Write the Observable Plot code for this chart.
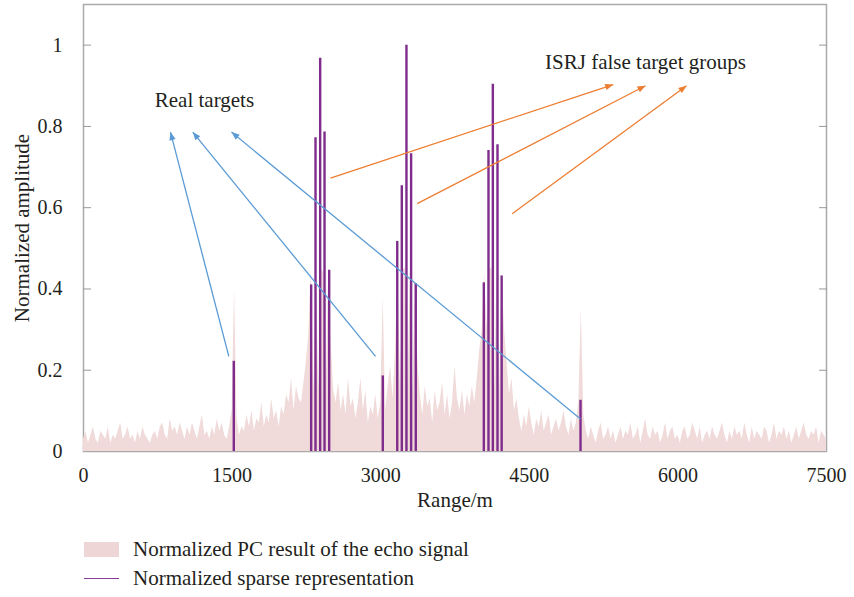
<!DOCTYPE html>
<html>
<head>
<meta charset="utf-8">
<script src="https://cdn.jsdelivr.net/npm/d3@7"></script>
<script src="https://cdn.jsdelivr.net/npm/@observablehq/plot@0.6"></script>
<style>
  html, body { margin: 0; padding: 0; background: #fff; }
  body { width: 854px; height: 597px; overflow: hidden; font-family: "Liberation Serif", "DejaVu Serif", serif; color: #231f20; }
  #legend { margin-left: 84px; margin-top: 5px; font-size: 21px; }
  .row { display: flex; align-items: center; height: 29px; }
  .sw { width: 35px; margin-right: 14px; }
</style>
</head>
<body>
<div id="chart"></div>
<div id="legend">
  <div class="row"><div class="sw" style="height:15px;background:#efd6d6"></div><span>Normalized PC result of the echo signal</span></div>
  <div class="row"><div class="sw" style="height:0;border-top:1.8px solid #8a3d98"></div><span>Normalized sparse representation</span></div>
</div>
<script>
// ---- Data ----
const rangeStep = 25; // metres between samples of the pulse-compression result
const pcNoise = [
  .03,.05,.02,.04,.06,.03,.02,.05,.04,.03,.06,.02,.04,.03,.05,.07,.03,.04,.06,.03,
  .04,.02,.05,.03,.06,.04,.03,.02,.04,.05,.03,.06,.07,.04,.03,.08,.05,.06,.04,.07,
  .05,.03,.06,.04,.07,.05,.03,.06,.09,.04,.05,.03,.06,.04,.08,.05,.07,.04,.03,.06,
  .10,.40,.08,
  .04,.06,.05,.09,.06,.10,.05,.08,.07,.12,.06,.09,.07,.13,.08,.10,.06,
  .11,.09,.14,.12,.18,.10,.16,.13,.12,.17,.22,.29,
  .45,.14,.45,.15,.45,.44,.15,.45,
  .27,.15,.12,.17,.10,.14,.09,.18,.11,.13,.08,.12,.18,.10,.15,.07,.11,.09,.14,.08,.12,
  .38,.10,
  .16,.21,.13,.25,
  .45,.15,.45,.45,.15,.45,.14,.43,
  .22,.14,.09,.16,.11,.13,.07,.15,.10,.12,.17,.09,.14,.08,.12,.21,.13,.10,.15,.09,.14,.11,.16,.12,.18,.25,
  .30,
  .44,.30,.45,.45,.15,.45,.15,.44,
  .30,.22,.14,.18,.10,.13,
  .08,.05,.09,.06,.11,.07,.04,.08,.06,.10,.05,.07,.09,.04,.06,.08,.05,.07,.10,.06,.04,.08,.05,.07,
  .12,.35,.09,
  .05,.03,.06,.04,.02,.05,.07,.03,.04,.06,
  .03,.05,.02,.04,.06,.03,.05,.04,.07,.03,
  .04,.06,.02,.05,.08,.04,.03,.06,.04,.05,
  .02,.04,.07,.03,.05,.06,.03,.04,.02,.05,
  .06,.03,.04,.07,.05,.03,.06,.02,.04,.05,
  .03,.06,.04,.03,.05,.07,.04,.02,.05,.03,
  .06,.04,.05,.03,.07,.04,.02,.06,.03,.05,
  .04,.03,.06,.05,.02,.04,.07,.03,.05,.04,
  .06,.03,.05,.02,.04,.06,.03,.05,.07,.04,
  .03,.05,.04,.06,.02,.05,.04,.03
];
const stemRange = [1517, 2298, 2342, 2389, 2433, 2480, 3021, 3167, 3213, 3260, 3307, 3354, 4041, 4088, 4132, 4179, 4221, 5017];
const stemAmp   = [0.222, 0.41, 0.772, 0.968, 0.786, 0.446, 0.186, 0.517, 0.654, 1.0, 0.733, 0.413, 0.415, 0.741, 0.904, 0.755, 0.432, 0.126];

const arrowX1 = [1467, 2948, 5017, 2493, 3368, 4327];
const arrowY1 = [0.234, 0.234, 0.080, 0.673, 0.610, 0.585];
const arrowX2 = [878, 1103, 1494, 5347, 5673, 6087];
const arrowY2 = [0.786, 0.786, 0.786, 0.903, 0.900, 0.900];
const arrowKind = ["real", "real", "real", "false", "false", "false"];

const labelText = ["Real targets", "ISRJ false target groups"];
const labelX = [1221, 5673];
const labelY = [0.865, 0.958];

const xTicks = [0, 1500, 3000, 4500, 6000, 7500];
const yTicks = [0, 0.2, 0.4, 0.6, 0.8, 1];
const xTitle = "Range/m";
const yTitle = "Normalized amplitude";

// ---- Tables ----
const noiseData = pcNoise.map((v, i) => ({range: i * rangeStep, amp: v}));
const stems = stemRange.map((r, i) => ({range: r, amp: stemAmp[i]}));
const arrows = arrowX1.map((x, i) => ({x1: x, y1: arrowY1[i], x2: arrowX2[i], y2: arrowY2[i], kind: arrowKind[i]}));
const labels = labelText.map((t, i) => ({text: t, x: labelX[i], y: labelY[i]}));
const arrowColor = {real: "#5b9bd5", false: "#ed7d31"};

function headMarker(color) {
  const m = d3.create("svg:marker")
    .attr("viewBox", "-10 -5 10 10")
    .attr("refX", 0).attr("refY", 0)
    .attr("markerWidth", 10).attr("markerHeight", 8)
    .attr("markerUnits", "userSpaceOnUse")
    .attr("orient", "auto");
  m.append("path").attr("d", "M-10,-4L0,0L-10,4Z").attr("fill", color).attr("stroke", "none");
  return m.node();
}

function build(useMarker) {
  const arrowMarks = useMarker
    ? ["real", "false"].map(k => Plot.link(arrows.filter(d => d.kind === k), {
        x1: "x1", y1: "y1", x2: "x2", y2: "y2",
        stroke: arrowColor[k], strokeWidth: 1.3,
        markerEnd: () => headMarker(arrowColor[k])
      }))
    : ["real", "false"].map(k => Plot.arrow(arrows.filter(d => d.kind === k), {
        x1: "x1", y1: "y1", x2: "x2", y2: "y2",
        stroke: arrowColor[k], strokeWidth: 1.3, headLength: 9, bend: 0
      }));
  return Plot.plot({
    width: 854,
    height: 530,
    marginLeft: 83,
    marginRight: 28,
    marginTop: 4,
    marginBottom: 79,
    style: {fontFamily: '"Liberation Serif", "DejaVu Serif", serif', fontSize: "20px", color: "#231f20", background: "#fff"},
    x: {domain: [0, 7500]},
    y: {domain: [0, 1.1]},
    marks: [
      Plot.frame({stroke: "#aaa", strokeWidth: 1.5}),
      Plot.areaY(noiseData, {x: "range", y: "amp", fill: "#f0dada", curve: "linear"}),
      Plot.ruleX(stems, {x: "range", y1: 0, y2: "amp", stroke: "#7f2c8c", strokeWidth: 2.4}),
      ...arrowMarks,
      Plot.text(labels, {x: "x", y: "y", text: "text", fontSize: 21, fill: "#231f20"}),
      Plot.axisX({ticks: xTicks, tickFormat: d => String(d), tickSize: 0, tickPadding: 16, fontSize: 20, label: null}),
      Plot.axisY({ticks: yTicks, tickFormat: d => String(d), tickSize: 0, tickPadding: 21, fontSize: 20, label: null}),
      Plot.text([xTitle], {frameAnchor: "bottom", dy: 55, fontSize: 21, fill: "#231f20"}),
      Plot.text([yTitle], {frameAnchor: "left", textAnchor: "middle", rotate: -90, dx: -61, fontSize: 21, fill: "#231f20"}),
      Plot.axisY({ticks: yTicks.filter(d => d > 0), anchor: "left", text: null, tickSize: -8, stroke: "#999", label: null}),
      Plot.axisY({ticks: yTicks.filter(d => d > 0), anchor: "right", text: null, tickSize: -8, stroke: "#999", label: null})
    ]
  });
}

let svg;
try { svg = build(true); } catch (e) { console.error(e); svg = build(false); }
document.getElementById("chart").appendChild(svg);
</script>
</body>
</html>
